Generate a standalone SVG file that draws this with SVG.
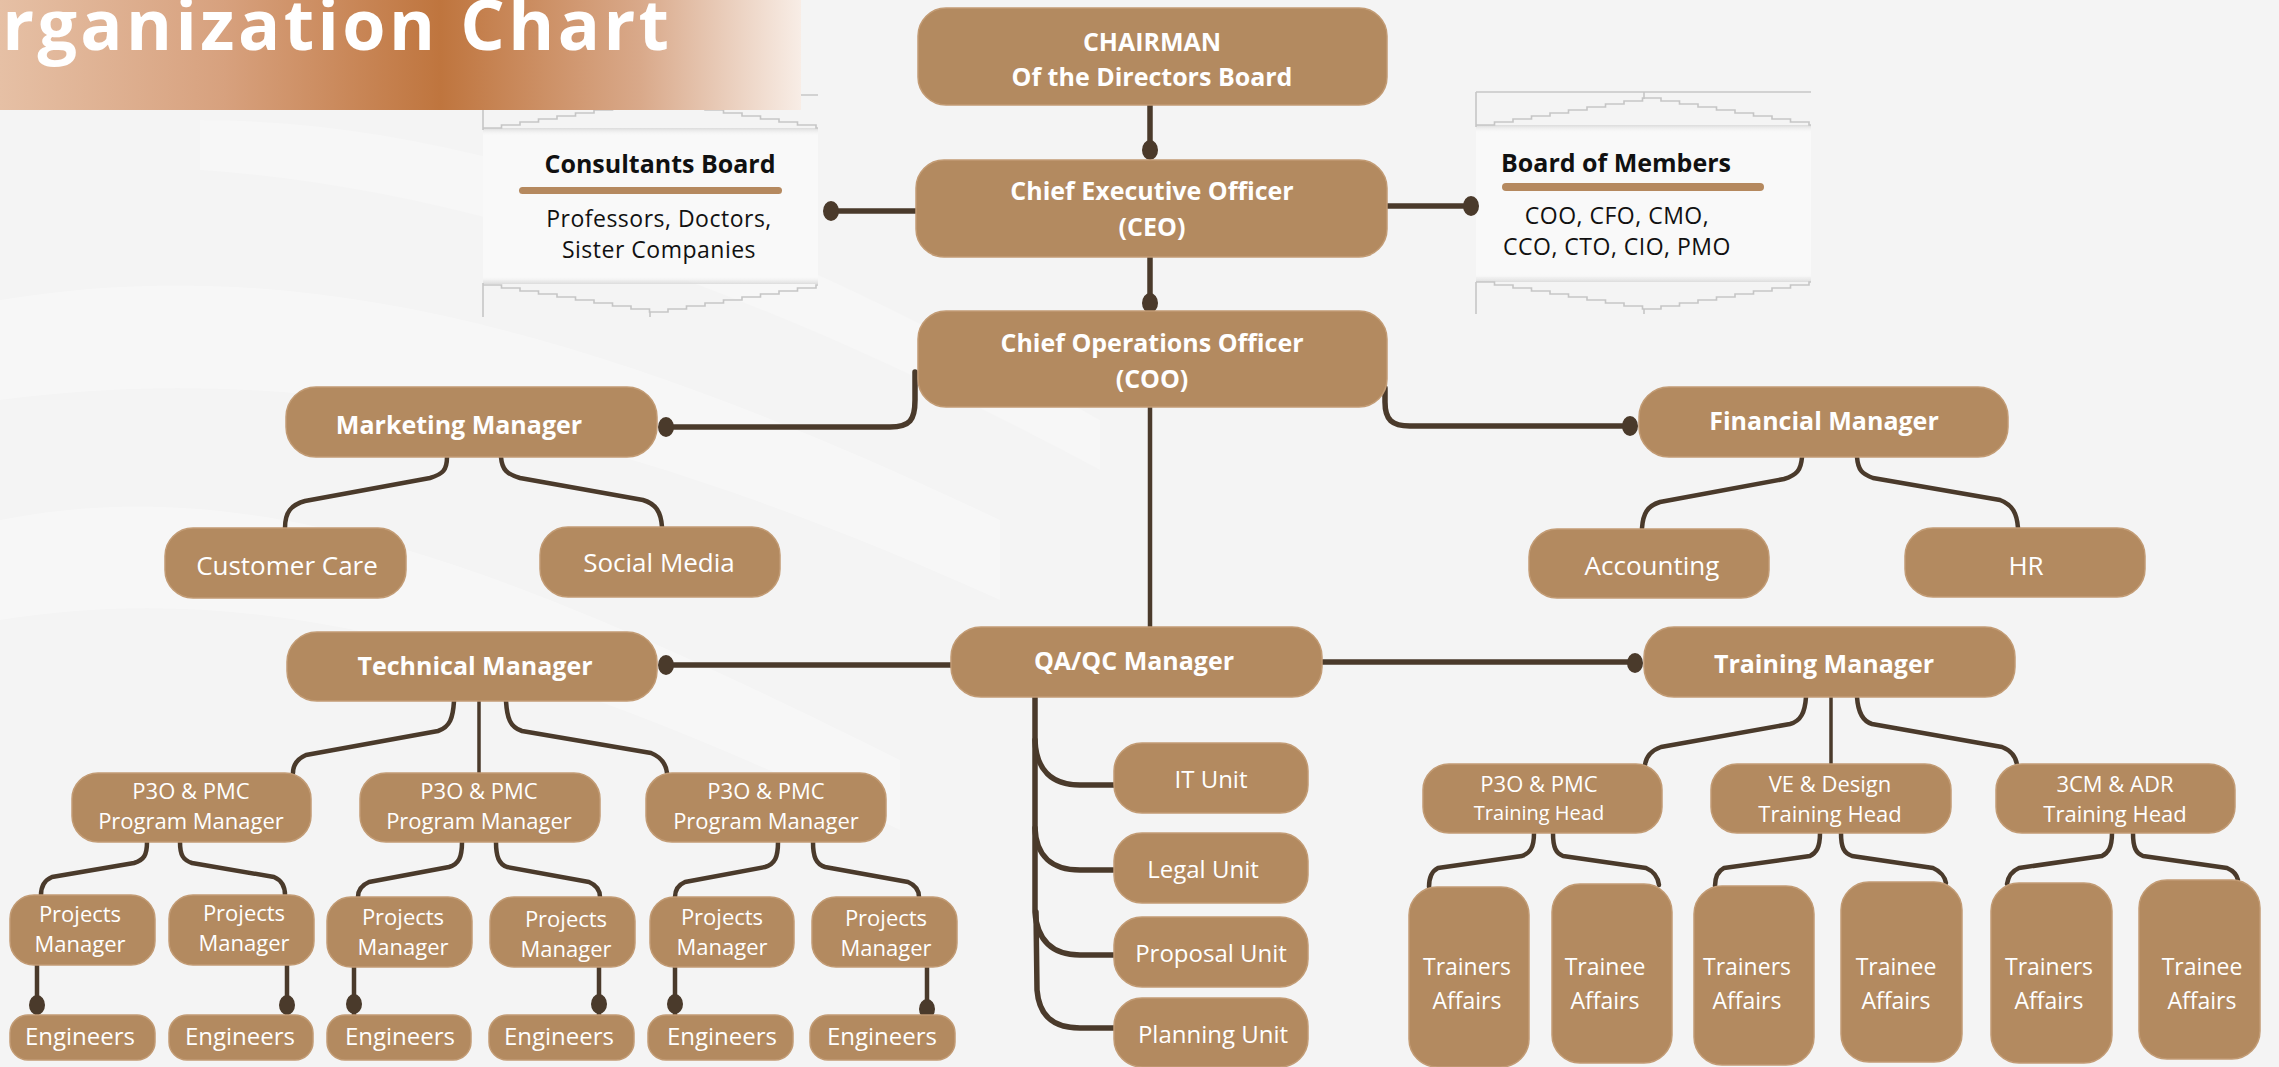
<svg xmlns="http://www.w3.org/2000/svg" width="2279" height="1067" viewBox="0 0 2279 1067">
<defs>
<linearGradient id="titleGrad" x1="0" y1="0" x2="1" y2="0">
<stop offset="0" stop-color="#e6c0a5"/>
<stop offset="0.28" stop-color="#d7a17e"/>
<stop offset="0.55" stop-color="#bf753e"/>
<stop offset="0.8" stop-color="#d9a98a"/>
<stop offset="1" stop-color="#f8ede6"/>
</linearGradient>
<linearGradient id="shTop" x1="0" y1="0" x2="0" y2="1">
<stop offset="0" stop-color="#d9d9d9" stop-opacity="0.9"/>
<stop offset="1" stop-color="#ffffff" stop-opacity="0"/>
</linearGradient>
<linearGradient id="shBot" x1="0" y1="1" x2="0" y2="0">
<stop offset="0" stop-color="#d9d9d9" stop-opacity="0.9"/>
<stop offset="1" stop-color="#ffffff" stop-opacity="0"/>
</linearGradient>
<style>
.n{fill:#b38a60;stroke:#c29b74;stroke-width:1.5}
.h{font-family:"Open Sans","DejaVu Sans",sans-serif;font-weight:700;font-size:25px;fill:#ffffff;text-anchor:middle}
.r{font-family:"Open Sans","DejaVu Sans",sans-serif;font-weight:400;font-size:24px;fill:#ffffff;text-anchor:middle}
.rl{font-size:26px}
.s2{font-size:22px}
.sm{font-size:20px}
.md{font-size:23px}
.k{font-family:"Open Sans","DejaVu Sans",sans-serif;font-size:23px;fill:#111111;text-anchor:middle;letter-spacing:0.5px}
.kb{font-weight:700;font-size:25px;letter-spacing:0}
.c{fill:none;stroke:#4a3a2b;stroke-width:5.5;stroke-linecap:round;stroke-linejoin:round}
.ct{fill:none;stroke:#4a3a2b;stroke-width:4.5;stroke-linecap:round;stroke-linejoin:round}
.d{fill:#4a3a2b}
.fr{fill:none;stroke:#c6c6c6;stroke-width:1.6}
</style>
</defs>

<rect x="0" y="0" width="2279" height="1067" fill="#f4f4f4"/>
<g id="background-waves" fill="#ffffff">
<path d="M0 300 C 300 250 600 330 1000 520 L 1000 600 C 600 420 300 360 0 400 Z" opacity="0.3"/>
<path d="M0 520 C 250 470 500 560 900 760 L 900 830 C 500 640 250 580 0 620 Z" opacity="0.3"/>
<path d="M200 120 C 500 120 800 250 1100 420 L 1100 470 C 800 310 500 190 200 170 Z" opacity="0.25"/>
</g>

<g id="consultants-board">
<rect x="483" y="130" width="335" height="150" fill="#f9f9f9"/>
<rect x="483" y="128" width="335" height="9" fill="url(#shTop)"/>
<rect x="483" y="275" width="335" height="9" fill="url(#shBot)"/>
<path class="fr" d="M483 95 H818 M483 95 V130 M650 95 V101"/>
<path class="fr" d="M483 128 h18.5v-3h18.5v-3h18.5v-3h18.5v-3h18.5v-3h18.5v-3h18.5v-3h18.5v-3h18.5v-3 h18.5v3h18.5v3h18.5v3h18.5v3h18.5v3h18.5v3h18.5v3h18.5v3h18.5v3h2"/>
<path class="fr" d="M483 285 h18.5v3h18.5v3h18.5v3h18.5v3h18.5v3h18.5v3h18.5v3h18.5v3h18.5v3 h18.5v-3h18.5v-3h18.5v-3h18.5v-3h18.5v-3h18.5v-3h18.5v-3h18.5v-3h18.5v-3h2"/>
<path class="fr" d="M483 283 V317 M650 312 V317"/>
<text class="k kb" x="660" y="173">Consultants Board</text>
<rect x="519" y="187" width="263" height="7" rx="3.5" fill="#b5895f"/>
<text class="k" x="659" y="227">Professors, Doctors,</text>
<text class="k" x="659" y="258">Sister Companies</text>
</g>

<g id="board-of-members">
<rect x="1476" y="127" width="335" height="150" fill="#f9f9f9"/>
<rect x="1476" y="125" width="335" height="9" fill="url(#shTop)"/>
<rect x="1476" y="273" width="335" height="9" fill="url(#shBot)"/>
<path class="fr" d="M1476 92 H1811 M1476 92 V127 M1644 92 V99"/>
<path class="fr" d="M1476 125 h18.5v-3h18.5v-3h18.5v-3h18.5v-3h18.5v-3h18.5v-3h18.5v-3h18.5v-3h18.5v-3 h18.5v3h18.5v3h18.5v3h18.5v3h18.5v3h18.5v3h18.5v3h18.5v3h18.5v3h2"/>
<path class="fr" d="M1476 282 h18.5v3h18.5v3h18.5v3h18.5v3h18.5v3h18.5v3h18.5v3h18.5v3h18.5v3 h18.5v-3h18.5v-3h18.5v-3h18.5v-3h18.5v-3h18.5v-3h18.5v-3h18.5v-3h18.5v-3h2"/>
<path class="fr" d="M1476 282 V314 M1644 309 V314"/>
<text class="k kb" x="1616" y="172">Board of Members</text>
<rect x="1502" y="183" width="262" height="8" rx="4" fill="#b5895f"/>
<text class="k" x="1617" y="224">COO, CFO, CMO,</text>
<text class="k" x="1617" y="255">CCO, CTO, CIO, PMO</text>
</g>

<g id="title">
<rect x="0" y="0" width="801" height="110" fill="url(#titleGrad)"/>
<text x="-57" y="50" textLength="726" lengthAdjust="spacing" font-family="Open Sans, DejaVu Sans, sans-serif" font-weight="700" font-size="70" fill="#ffffff">Organization Chart</text>
</g>

<g id="connectors">
<path class="c" d="M1150 105 V150"/><ellipse class="d" cx="1150" cy="150" rx="8" ry="10"/>
<path class="c" d="M1150 257 V303"/><ellipse class="d" cx="1150" cy="303" rx="8" ry="10"/>
<path class="c" d="M916 211 H831"/><ellipse class="d" cx="831" cy="211" rx="8" ry="10"/>
<path class="c" d="M1387 206 H1471"/><ellipse class="d" cx="1471" cy="206" rx="8" ry="10"/>
<path class="c" d="M915 372 V400 C915 420 910 427 890 427 H666"/><ellipse class="d" cx="666" cy="427" rx="8" ry="10"/>
<path class="c" d="M1385 388 V402 C1385 420 1392 426 1410 426 H1630"/><ellipse class="d" cx="1630" cy="426" rx="8" ry="10"/>
<path class="ct" d="M1150 407 V628"/>
<path class="c" d="M951 665 H666"/><ellipse class="d" cx="666" cy="665" rx="8" ry="10"/>
<path class="c" d="M1322 662 H1635"/><ellipse class="d" cx="1635" cy="663" rx="8" ry="10"/>
<path class="ct" d="M447 457 C447 470 443 474 430 478 L305 501 C291 505 285 512 285 528"/>
<path class="ct" d="M501 457 C502 470 507 474 520 478 L643 500 C656 504 661 512 662 527"/>
<path class="ct" d="M1802 457 C1801 470 1797 475 1784 479 L1660 502 C1647 506 1643 514 1642 528"/>
<path class="ct" d="M1857 457 C1858 470 1862 474 1873 478 L2000 500 C2013 505 2017 514 2018 528"/>
<path class="ct" d="M454 701 C453 718 450 727 438 731 L306 755 C297 759 293 765 293 773"/>
<path class="ct" d="M479 701 V773" style="stroke-width:3.5"/>
<path class="ct" d="M506 701 C507 718 510 727 522 731 L651 753 C661 757 666 764 667 773"/>
<path class="ct" d="M147 842 C147 855 144 860 134 863 L52 877 C45 880 41 886 41 895"/>
<path class="ct" d="M180 842 C180 855 183 860 192 863 L274 877 C281 880 285 886 285 895"/>
<path class="ct" d="M462 842 C462 857 459 864 449 867 L369 882 C362 885 358 890 358 897"/>
<path class="ct" d="M496 842 C496 857 499 864 507 867 L589 882 C596 885 600 890 600 897"/>
<path class="ct" d="M778 842 C778 857 775 864 765 867 L685 882 C678 885 675 890 675 897"/>
<path class="ct" d="M813 842 C813 857 816 864 825 867 L908 882 C915 885 919 890 919 897"/>
<path class="ct" d="M37 965 V1015"/><ellipse class="d" cx="37" cy="1005" rx="8" ry="10"/>
<path class="ct" d="M287 965 V1015"/><ellipse class="d" cx="287" cy="1005" rx="8" ry="10"/>
<path class="ct" d="M354 967 V1015"/><ellipse class="d" cx="354" cy="1004" rx="8" ry="10"/>
<path class="ct" d="M599 967 V1015"/><ellipse class="d" cx="599" cy="1004" rx="8" ry="10"/>
<path class="ct" d="M675 967 V1015"/><ellipse class="d" cx="675" cy="1004" rx="8" ry="10"/>
<path class="ct" d="M927 967 V1015"/><ellipse class="d" cx="927" cy="1009" rx="8" ry="10"/>
<path class="c" d="M1035 697 V740 C1036 770 1052 785 1080 785 H1114"/>
<path class="c" d="M1035 740 V828 C1036 856 1052 870 1080 870 H1114"/>
<path class="c" d="M1035 828 V912 C1037 940 1052 955 1080 955 H1114"/>
<path class="c" d="M1036 912 L1037 990 C1039 1015 1052 1028 1080 1028 H1114"/>
<path class="ct" d="M1806 697 C1805 712 1801 721 1790 724 L1661 747 C1650 751 1646 757 1645 765"/>
<path class="ct" d="M1831 697 V764" style="stroke-width:3.5"/>
<path class="ct" d="M1857 697 C1858 712 1862 721 1872 724 L2002 747 C2012 751 2016 757 2017 765"/>
<path class="ct" d="M1534 833 C1534 848 1530 853 1522 856 L1438 868 C1432 871 1429 877 1429 887"/>
<path class="ct" d="M1553 833 C1553 848 1556 853 1563 856 L1646 868 C1653 871 1658 877 1659 885"/>
<path class="ct" d="M1820 833 C1820 848 1816 853 1810 856 L1724 868 C1718 871 1715 877 1715 886"/>
<path class="ct" d="M1841 833 C1841 848 1844 853 1852 856 L1933 868 C1940 871 1945 877 1946 883"/>
<path class="ct" d="M2112 833 C2112 848 2108 853 2102 856 L2019 868 C2012 871 2008 877 2007 884"/>
<path class="ct" d="M2133 833 C2133 848 2136 853 2143 856 L2227 868 C2234 871 2237 875 2238 880"/>
</g>

<g id="chairman"><rect class="n" x="918" y="8" width="469" height="97" rx="28"/>
<text class="h" x="1152" y="51">CHAIRMAN</text><text class="h" x="1152" y="86">Of the Directors Board</text></g>
<g id="ceo"><rect class="n" x="916" y="160" width="471" height="97" rx="28"/>
<text class="h" x="1152" y="200">Chief Executive Officer</text><text class="h" x="1152" y="236">(CEO)</text></g>
<g id="coo"><rect class="n" x="918" y="311" width="469" height="96" rx="28"/>
<text class="h" x="1152" y="352">Chief Operations Officer</text><text class="h" x="1152" y="388">(COO)</text></g>

<g id="marketing-manager"><rect class="n" x="286" y="387" width="371" height="70" rx="30"/><text class="h" x="459" y="434">Marketing Manager</text></g>
<g id="financial-manager"><rect class="n" x="1639" y="387" width="369" height="70" rx="30"/><text class="h" x="1824" y="430">Financial Manager</text></g>
<g id="customer-care"><rect class="n" x="165" y="528" width="241" height="70" rx="28"/><text class="r rl" x="287" y="575">Customer Care</text></g>
<g id="social-media"><rect class="n" x="540" y="527" width="240" height="70" rx="28"/><text class="r rl" x="659" y="572">Social Media</text></g>
<g id="accounting"><rect class="n" x="1529" y="529" width="240" height="69" rx="28"/><text class="r rl" x="1652" y="575">Accounting</text></g>
<g id="hr"><rect class="n" x="1905" y="528" width="240" height="69" rx="28"/><text class="r rl" x="2026" y="575">HR</text></g>

<g id="technical-manager"><rect class="n" x="287" y="632" width="370" height="69" rx="30"/><text class="h" x="475" y="675">Technical Manager</text></g>
<g id="qaqc-manager"><rect class="n" x="951" y="627" width="371" height="70" rx="30"/><text class="h" x="1134" y="670">QA/QC Manager</text></g>
<g id="training-manager"><rect class="n" x="1644" y="627" width="371" height="70" rx="30"/><text class="h" x="1824" y="673">Training Manager</text></g>

<g id="program-manager-1"><rect class="n" x="72" y="773" width="239" height="69" rx="26"/><text class="r s2" x="191" y="799">P3O &amp; PMC</text><text class="r s2" x="191" y="829">Program Manager</text></g>
<g id="program-manager-2"><rect class="n" x="360" y="773" width="240" height="69" rx="26"/><text class="r s2" x="479" y="799">P3O &amp; PMC</text><text class="r s2" x="479" y="829">Program Manager</text></g>
<g id="program-manager-3"><rect class="n" x="646" y="773" width="240" height="69" rx="26"/><text class="r s2" x="766" y="799">P3O &amp; PMC</text><text class="r s2" x="766" y="829">Program Manager</text></g>

<g id="projects-manager-1"><rect class="n" x="10" y="895" width="145" height="70" rx="24"/><text class="r s2" x="80" y="922">Projects</text><text class="r s2" x="80" y="952">Manager</text></g>
<g id="projects-manager-2"><rect class="n" x="169" y="895" width="145" height="70" rx="24"/><text class="r s2" x="244" y="921">Projects</text><text class="r s2" x="244" y="951">Manager</text></g>
<g id="projects-manager-3"><rect class="n" x="327" y="897" width="145" height="70" rx="24"/><text class="r s2" x="403" y="925">Projects</text><text class="r s2" x="403" y="955">Manager</text></g>
<g id="projects-manager-4"><rect class="n" x="490" y="897" width="145" height="70" rx="24"/><text class="r s2" x="566" y="927">Projects</text><text class="r s2" x="566" y="957">Manager</text></g>
<g id="projects-manager-5"><rect class="n" x="650" y="897" width="144" height="70" rx="24"/><text class="r s2" x="722" y="925">Projects</text><text class="r s2" x="722" y="955">Manager</text></g>
<g id="projects-manager-6"><rect class="n" x="812" y="897" width="145" height="70" rx="24"/><text class="r s2" x="886" y="926">Projects</text><text class="r s2" x="886" y="956">Manager</text></g>

<g id="engineers-1"><rect class="n" x="10" y="1015" width="145" height="45" rx="18"/><text class="r" x="80" y="1045">Engineers</text></g>
<g id="engineers-2"><rect class="n" x="169" y="1015" width="144" height="45" rx="18"/><text class="r" x="240" y="1045">Engineers</text></g>
<g id="engineers-3"><rect class="n" x="327" y="1015" width="144" height="45" rx="18"/><text class="r" x="400" y="1045">Engineers</text></g>
<g id="engineers-4"><rect class="n" x="489" y="1015" width="145" height="45" rx="18"/><text class="r" x="559" y="1045">Engineers</text></g>
<g id="engineers-5"><rect class="n" x="648" y="1015" width="145" height="45" rx="18"/><text class="r" x="722" y="1045">Engineers</text></g>
<g id="engineers-6"><rect class="n" x="810" y="1015" width="145" height="45" rx="18"/><text class="r" x="882" y="1045">Engineers</text></g>

<g id="it-unit"><rect class="n" x="1114" y="743" width="194" height="70" rx="28"/><text class="r" x="1211" y="788">IT Unit</text></g>
<g id="legal-unit"><rect class="n" x="1114" y="833" width="194" height="70" rx="28"/><text class="r" x="1203" y="878">Legal Unit</text></g>
<g id="proposal-unit"><rect class="n" x="1114" y="917" width="194" height="70" rx="28"/><text class="r" x="1211" y="962">Proposal Unit</text></g>
<g id="planning-unit"><rect class="n" x="1114" y="998" width="194" height="69" rx="28"/><text class="r" x="1213" y="1043">Planning Unit</text></g>

<g id="training-head-1"><rect class="n" x="1423" y="764" width="239" height="69" rx="26"/><text class="r s2" x="1539" y="792">P3O &amp; PMC</text><text class="r sm" x="1539" y="820">Training Head</text></g>
<g id="training-head-2"><rect class="n" x="1711" y="764" width="240" height="69" rx="26"/><text class="r s2" x="1830" y="792">VE &amp; Design</text><text class="r s2" x="1830" y="822">Training Head</text></g>
<g id="training-head-3"><rect class="n" x="1996" y="764" width="239" height="69" rx="26"/><text class="r s2" x="2115" y="792">3CM &amp; ADR</text><text class="r s2" x="2115" y="822">Training Head</text></g>

<g id="trainers-affairs-1"><rect class="n" x="1409" y="887" width="120" height="180" rx="28"/><text class="r md" x="1467" y="975">Trainers</text><text class="r md" x="1467" y="1009">Affairs</text></g>
<g id="trainee-affairs-1"><rect class="n" x="1552" y="884" width="120" height="179" rx="28"/><text class="r md" x="1605" y="975">Trainee</text><text class="r md" x="1605" y="1009">Affairs</text></g>
<g id="trainers-affairs-2"><rect class="n" x="1694" y="886" width="120" height="179" rx="28"/><text class="r md" x="1747" y="975">Trainers</text><text class="r md" x="1747" y="1009">Affairs</text></g>
<g id="trainee-affairs-2"><rect class="n" x="1841" y="882" width="121" height="180" rx="28"/><text class="r md" x="1896" y="975">Trainee</text><text class="r md" x="1896" y="1009">Affairs</text></g>
<g id="trainers-affairs-3"><rect class="n" x="1991" y="883" width="121" height="180" rx="28"/><text class="r md" x="2049" y="975">Trainers</text><text class="r md" x="2049" y="1009">Affairs</text></g>
<g id="trainee-affairs-3"><rect class="n" x="2139" y="880" width="121" height="179" rx="28"/><text class="r md" x="2202" y="975">Trainee</text><text class="r md" x="2202" y="1009">Affairs</text></g>
</svg>
